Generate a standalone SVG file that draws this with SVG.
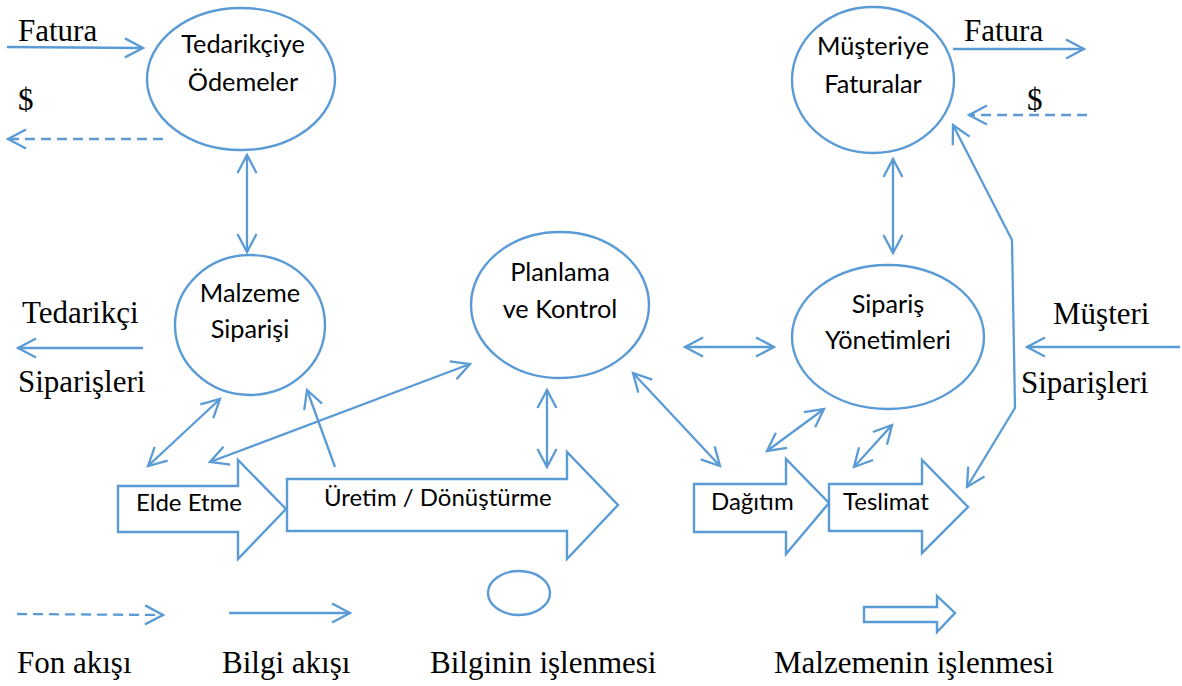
<svg xmlns="http://www.w3.org/2000/svg" width="1182" height="686" viewBox="0 0 1182 686">
  <defs>
    <style>
      .ln { fill: none; stroke: #5B9BD5; stroke-width: 2.3; }
      .dash { stroke-dasharray: 10 6; }
      .node { fill: #FFFFFF; stroke: #5B9BD5; stroke-width: 2.4; }
      .lbl { font-family: Lato, "Open Sans", sans-serif; font-size: 24px; fill: #000000; }
      .lbl-c { text-anchor: middle; font-size: 25.3px; }
      .ser { font-family: "Liberation Serif", "Times New Roman", serif; font-size: 31px; fill: #000000; }
    </style>
    <marker id="head" markerUnits="userSpaceOnUse" markerWidth="26" markerHeight="26" viewBox="-22 -13 26 26" refX="0" refY="0" orient="auto-start-reverse" overflow="visible">
      <path d="M-18,-9.5 L0,0 L-18,9.5" fill="none" stroke="#5B9BD5" stroke-width="2.3" stroke-dasharray="none"/>
    </marker>
  </defs>

  <rect width="1182" height="686" fill="#FFFFFF"/>

  <!-- information processing nodes -->
  <g id="tedarikciye-odemeler">
    <ellipse class="node" cx="241" cy="79" rx="94" ry="71"/>
    <text class="lbl lbl-c" x="243" y="53">Tedarikçiye</text>
    <text class="lbl lbl-c" x="243" y="91">Ödemeler</text>
  </g>
  <g id="malzeme-siparisi">
    <ellipse class="node" cx="250" cy="325" rx="75" ry="70"/>
    <text class="lbl lbl-c" x="250" y="302">Malzeme</text>
    <text class="lbl lbl-c" x="250" y="338">Siparişi</text>
  </g>
  <g id="planlama-kontrol">
    <ellipse class="node" cx="560" cy="305" rx="89" ry="73"/>
    <text class="lbl lbl-c" x="560" y="281">Planlama</text>
    <text class="lbl lbl-c" x="560" y="318">ve Kontrol</text>
  </g>
  <g id="musteriye-faturalar">
    <ellipse class="node" cx="873" cy="80" rx="81" ry="73"/>
    <text class="lbl lbl-c" x="873" y="55">Müşteriye</text>
    <text class="lbl lbl-c" x="873" y="93">Faturalar</text>
  </g>
  <g id="siparis-yonetimleri">
    <ellipse class="node" cx="888" cy="337" rx="96" ry="72"/>
    <text class="lbl lbl-c" x="888" y="313">Sipariş</text>
    <text class="lbl lbl-c" x="888" y="349">Yönetimleri</text>
  </g>

  <!-- material processing steps (block arrows) -->
  <g id="elde-etme">
    <polygon class="node" points="118,486 238,486 238,460 286,509 238,559 238,532 118,532"/>
    <text class="lbl" x="136" y="511">Elde Etme</text>
  </g>
  <g id="uretim-donusturme">
    <polygon class="node" points="287,479 567,479 567,452 618,505 567,559 567,531 287,531"/>
    <text class="lbl" x="324" y="506">Üretim / Dönüştürme</text>
  </g>
  <g id="dagitim">
    <polygon class="node" points="694,484 786,484 786,459 829,503 786,554 786,532 694,532"/>
    <text class="lbl" x="711" y="510">Dağıtım</text>
  </g>
  <g id="teslimat">
    <polygon class="node" points="829,484 922,484 922,460 968,507 922,553 922,531 829,531"/>
    <text class="lbl" x="843" y="510">Teslimat</text>
  </g>

  <!-- flows between nodes and to the outside -->
  <g id="connectors">
    <!-- supplier side -->
    <line class="ln" x1="7" y1="47" x2="143" y2="48" marker-end="url(#head)"/>
    <line class="ln dash" x1="163" y1="139" x2="8" y2="139" marker-end="url(#head)"/>
    <line class="ln" x1="143" y1="348" x2="18" y2="348" marker-end="url(#head)"/>
    <line class="ln" x1="247" y1="155" x2="247" y2="252" marker-start="url(#head)" marker-end="url(#head)"/>
    <line class="ln" x1="220" y1="399" x2="148" y2="466" marker-start="url(#head)" marker-end="url(#head)"/>
    <line class="ln" x1="470" y1="364" x2="210" y2="462" marker-start="url(#head)" marker-end="url(#head)"/>
    <line class="ln" x1="335" y1="467" x2="307" y2="390" marker-end="url(#head)"/>
    <line class="ln" x1="547" y1="390" x2="547" y2="467" marker-start="url(#head)" marker-end="url(#head)"/>
    <!-- customer side -->
    <line class="ln" x1="685" y1="347" x2="774" y2="347" marker-start="url(#head)" marker-end="url(#head)"/>
    <line class="ln" x1="633" y1="373" x2="720" y2="466" marker-start="url(#head)" marker-end="url(#head)"/>
    <line class="ln" x1="824" y1="409" x2="767" y2="451" marker-start="url(#head)" marker-end="url(#head)"/>
    <line class="ln" x1="892" y1="425" x2="854" y2="467" marker-start="url(#head)" marker-end="url(#head)"/>
    <line class="ln" x1="893" y1="159" x2="893" y2="253" marker-start="url(#head)" marker-end="url(#head)"/>
    <line class="ln" x1="953" y1="49" x2="1084" y2="49" marker-end="url(#head)"/>
    <line class="ln dash" x1="1087" y1="115" x2="969" y2="115" marker-end="url(#head)"/>
    <line class="ln" x1="1180" y1="347" x2="1027" y2="347" marker-end="url(#head)"/>
    <polyline class="ln" points="953,125 1012,240 1015,408 967,487" marker-start="url(#head)" marker-end="url(#head)"/>
  </g>

  <!-- flow labels -->
  <g id="flow-labels">
    <text class="ser" x="18" y="41">Fatura</text>
    <text class="ser" x="18" y="110">$</text>
    <text class="ser" x="22" y="323">Tedarikçi</text>
    <text class="ser" x="18" y="392">Siparişleri</text>
    <text class="ser" x="964" y="41">Fatura</text>
    <text class="ser" x="1027" y="110">$</text>
    <text class="ser" x="1053" y="324">Müşteri</text>
    <text class="ser" x="1021" y="393">Siparişleri</text>
  </g>

  <!-- legend -->
  <g id="legend">
    <line class="ln dash" x1="17" y1="614" x2="163" y2="615" marker-end="url(#head)"/>
    <line class="ln" x1="229" y1="613" x2="350" y2="613" marker-end="url(#head)"/>
    <ellipse class="node" cx="519" cy="593" rx="31" ry="22"/>
    <polygon class="node" points="864,607 937,607 937,596 955,613 937,632 937,622 864,622"/>
    <text class="ser" x="17" y="673">Fon akışı</text>
    <text class="ser" x="222" y="673">Bilgi akışı</text>
    <text class="ser" x="430" y="673">Bilginin işlenmesi</text>
    <text class="ser" x="774" y="673">Malzemenin işlenmesi</text>
  </g>
</svg>
